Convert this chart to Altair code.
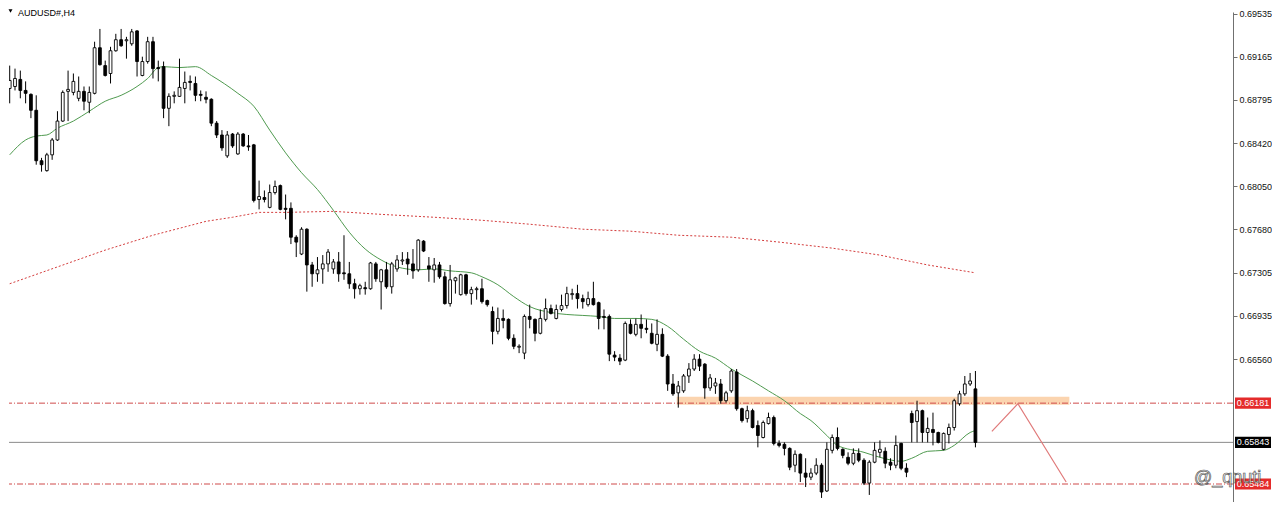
import altair as alt
import pandas as pd

symbol_title = "AUDUSD#,H4"
axis_ticks = [0.69535, 0.69165, 0.68795, 0.68420, 0.68050, 0.67680, 0.67305, 0.66935, 0.66560]

# OHLC in points (1 point = 0.00001), one entry per H4 bar, oldest first
open_pts = [68893, 68910, 68971, 68876, 68842, 68705, 68270, 68185, 68321, 68449,
            68612, 68868, 68859, 68808, 68868, 68774, 68851, 69244, 69090, 69022,
            69218, 69313, 69304, 69278, 69389, 69005, 69125, 69296, 69073, 69081,
            68722, 68825, 68825, 68893, 68954, 68936, 68842, 68817, 68800, 68594,
            68492, 68312, 68500, 68329, 68500, 68398, 68407, 67936, 67953, 67868,
            67996, 68056, 67860, 67860, 67611, 67466, 67680, 67372, 67296, 67338,
            67381, 67338, 67398, 67304, 67296, 67210, 67167, 67176, 67167, 67381,
            67227, 67330, 67184, 67338, 67406, 67423, 67381, 67330, 67577, 67364,
            67330, 67372, 67270, 67039, 67236, 67116, 67287, 67125, 67159, 67167,
            67065, 66971, 66800, 66911, 66903, 66740, 66663, 66612, 66928, 66903,
            66783, 66903, 66996, 66911, 66988, 67022, 67116, 67125, 67082, 67030,
            67082, 67047, 66928, 66928, 66595, 66569, 66552, 66860, 66774, 66860,
            66826, 66783, 66688, 66774, 66586, 66346, 66270, 66287, 66415, 66475,
            66560, 66517, 66312, 66329, 66346, 66202, 66287, 66449, 66133, 66048,
            66116, 65988, 65885, 66005, 66057, 65834, 65826, 65791, 65646, 65740,
            65578, 65543, 65578, 65646, 65424, 65774, 65885, 65783, 65714, 65663,
            65748, 65689, 65492, 65672, 65757, 65766, 65672, 65646, 65834, 65620,
            66091, 66022, 66116, 65928, 65954, 65928, 65783, 65911, 65971, 66176,
            66261, 66346, 66304]
high_pts = [69090, 69064, 69047, 68954, 68851, 68834, 68295, 68338, 68466, 68697,
            68876, 69047, 69022, 68996, 68910, 68910, 69296, 69406, 69133, 69252,
            69364, 69406, 69338, 69406, 69395, 69167, 69338, 69338, 69133, 69125,
            68851, 68868, 69150, 69039, 69005, 68996, 68876, 68868, 68808, 68612,
            68534, 68526, 68509, 68517, 68509, 68492, 68415, 68099, 68014, 68065,
            68099, 68065, 67979, 67911, 67628, 67697, 67688, 67398, 67440, 67457,
            67509, 67423, 67483, 67628, 67398, 67253, 67210, 67227, 67398, 67398,
            67338, 67398, 67398, 67457, 67483, 67483, 67509, 67594, 67586, 67440,
            67432, 67398, 67313, 67372, 67270, 67296, 67296, 67184, 67184, 67253,
            67073, 67013, 67005, 66988, 66911, 66774, 66688, 66945, 67030, 66911,
            66988, 67082, 67030, 67030, 67116, 67184, 67167, 67201, 67116, 67142,
            67227, 67056, 66988, 66945, 66629, 66603, 66885, 66903, 66911, 66945,
            66903, 66868, 66903, 66826, 66603, 66432, 66372, 66432, 66526, 66603,
            66603, 66526, 66432, 66398, 66389, 66287, 66475, 66475, 66142, 66159,
            66133, 66031, 66031, 66099, 66074, 65860, 65843, 65800, 65774, 65748,
            65706, 65620, 65706, 65663, 65843, 65911, 65971, 65791, 65757, 65791,
            65791, 65706, 65689, 65843, 65860, 65800, 65706, 65902, 65840, 65663,
            66116, 66202, 66125, 66057, 66099, 65935, 65928, 66005, 66219, 66287,
            66415, 66441, 66458]
low_pts = [68765, 68876, 68808, 68765, 68637, 68236, 68176, 68176, 68278, 68441,
           68605, 68612, 68834, 68783, 68705, 68680, 68842, 69090, 68996, 68936,
           69210, 69252, 69150, 69261, 68996, 68998, 69107, 68979, 68954, 68637,
           68568, 68765, 68820, 68765, 68876, 68783, 68783, 68765, 68568, 68466,
           68356, 68295, 68381, 68321, 68390, 68356, 67911, 67851, 67911, 67860,
           67979, 67843, 67765, 67552, 67440, 67457, 67142, 67184, 67227, 67210,
           67313, 67296, 67227, 67244, 67167, 67082, 67116, 67116, 67159, 67227,
           66988, 67167, 67125, 67313, 67372, 67287, 67253, 67313, 67483, 67227,
           67219, 67253, 67030, 67013, 67125, 67108, 67108, 67030, 67073, 67039,
           67013, 66688, 66774, 66826, 66723, 66646, 66612, 66560, 66826, 66714,
           66774, 66885, 66945, 66903, 66971, 66996, 67073, 66996, 66996, 67013,
           67022, 66817, 66817, 66543, 66543, 66509, 66543, 66774, 66757, 66740,
           66783, 66688, 66629, 66578, 66287, 66244, 66142, 66270, 66355, 66458,
           66458, 66219, 66287, 66261, 66176, 66185, 66270, 66116, 66014, 66014,
           65963, 65800, 65877, 65997, 65817, 65800, 65731, 65603, 65586, 65501,
           65458, 65518, 65561, 65364, 65415, 65748, 65774, 65706, 65646, 65646,
           65672, 65475, 65390, 65663, 65714, 65620, 65603, 65620, 65603, 65543,
           65843, 65843, 65843, 65843, 65817, 65834, 65774, 65834, 65945, 66159,
           66244, 66329, 65800]
close_pts = [68962, 68979, 68876, 68851, 68705, 68270, 68236, 68321, 68449, 68612,
             68859, 68885, 68954, 68868, 68783, 68859, 69244, 69098, 69005, 69218,
             69313, 69261, 69313, 69381, 69125, 69125, 69296, 69064, 69064, 68722,
             68825, 68834, 68902, 68945, 68945, 68834, 68834, 68800, 68594, 68492,
             68381, 68492, 68398, 68500, 68398, 68390, 67928, 67962, 67936, 67996,
             68048, 67851, 67851, 67611, 67569, 67680, 67372, 67296, 67330, 67381,
             67483, 67398, 67296, 67296, 67210, 67167, 67193, 67167, 67389, 67253,
             67330, 67184, 67381, 67415, 67415, 67381, 67321, 67586, 67492, 67338,
             67372, 67270, 67039, 67244, 67261, 67287, 67125, 67159, 67167, 67056,
             67030, 66800, 66911, 66894, 66740, 66671, 66671, 66928, 66903, 66783,
             66911, 66996, 66954, 66988, 67022, 67125, 67125, 67082, 67056, 67082,
             67030, 66911, 66920, 66603, 66578, 66543, 66868, 66783, 66860, 66826,
             66817, 66697, 66774, 66586, 66346, 66261, 66329, 66415, 66475, 66560,
             66500, 66312, 66398, 66355, 66202, 66270, 66458, 66133, 66031, 66116,
             65971, 65902, 66014, 66057, 65834, 65817, 65791, 65629, 65740, 65578,
             65543, 65578, 65646, 65415, 65783, 65885, 65791, 65731, 65663, 65748,
             65689, 65492, 65672, 65774, 65783, 65663, 65646, 65817, 65620, 65586,
             66014, 66116, 65928, 65963, 65928, 65843, 65920, 65971, 66202, 66261,
             66346, 66372, 65843]

# fast (green) moving average, read at selected bars
ma_fast_idx = [0, 3, 5, 7, 9, 12, 15, 18, 21, 24, 26, 28, 29, 32, 35, 38, 43, 46, 49, 52,
               55, 58, 61, 64, 67, 70, 73, 77, 80, 83, 87, 89, 92, 95, 98, 102, 105, 108,
               111, 114, 118, 121, 124, 127, 130, 133, 136, 140, 143, 146, 149, 151, 154,
               156, 161, 164, 168, 170, 173, 176, 178, 181, 182]
ma_fast_pts = [68321, 68449, 68483, 68492, 68551, 68612, 68697, 68783, 68834, 68910,
               68979, 69073, 69081, 69073, 69081, 69005, 68851, 68740, 68534, 68338,
               68167, 68022, 67843, 67654, 67509, 67415, 67355, 67330, 67338, 67321,
               67304, 67270, 67201, 67099, 67013, 66962, 66945, 66937, 66928, 66911,
               66911, 66903, 66843, 66732, 66629, 66569, 66475, 66372, 66287, 66202,
               66091, 66031, 65902, 65817, 65757, 65714, 65680, 65706, 65766, 65774,
               65817, 65928, 65945]
# slow (red dotted) moving average
ma_slow_idx = [0, 9, 18, 27, 37, 42, 47, 52, 61, 70, 80, 89, 98, 108, 117, 126, 136,
               145, 155, 164, 173, 182]
ma_slow_pts = [67210, 67355, 67500, 67628, 67748, 67783, 67825, 67825, 67834, 67808,
               67783, 67757, 67723, 67680, 67663, 67628, 67611, 67569, 67517, 67457,
               67372, 67304]

level_resist = 0.66181
level_current = 0.65843
level_support = 0.65484

zone_idx = [125.7, 199.7]
zone_price = [0.66168, 0.66236]

zig_idx = [185.1, 190.0, 199.1]
zig_pts = [65937, 66176, 65501]

watermark = "@_qnuti"

# ---------------------------------------------------------------------------
W = 1224
H = 490
x_dom = [0.81, 229.6]
y_dom = [0.65329, 0.69552]

P = 100000.0
candles = pd.DataFrame({
    "idx": list(range(len(open_pts))),
    "open": [v / P for v in open_pts],
    "high": [v / P for v in high_pts],
    "low": [v / P for v in low_pts],
    "close": [v / P for v in close_pts],
})
candles["dir"] = ["up" if c >= o else "down" for o, c in zip(candles["open"], candles["close"])]
up_c = candles[candles["dir"] == "up"]
dn_c = candles[candles["dir"] == "down"]

fast = pd.DataFrame({"idx": ma_fast_idx, "v": [v / P for v in ma_fast_pts]})
slow = pd.DataFrame({"idx": ma_slow_idx, "v": [v / P for v in ma_slow_pts]})
zig = pd.DataFrame({"idx": zig_idx, "v": [v / P for v in zig_pts]})
zone = pd.DataFrame({"x0": [zone_idx[0]], "x1": [zone_idx[1]],
                     "p0": [zone_price[0]], "p1": [zone_price[1]]})
red_levels = pd.DataFrame({"v": [level_resist, level_support]})
cur_level = pd.DataFrame({"v": [level_current]})

red_lab = pd.DataFrame({"v": [level_resist, level_support],
                        "txt": ["%.5f" % level_resist, "%.5f" % level_support]})
blk_lab = pd.DataFrame({"v": [level_current], "txt": ["%.5f" % level_current]})
for d in (red_lab, blk_lab):
    d["lo"] = d["v"] - 0.00048
    d["hi"] = d["v"] + 0.00048

xs = alt.Scale(domain=x_dom, nice=False, zero=False)
ys = alt.Scale(domain=y_dom, nice=False, zero=False)

y_axis = alt.Axis(orient="right", values=axis_ticks, format=".5f", title=None, grid=False,
                  domainColor="#707070", domainWidth=1, tickColor="#707070", tickSize=4,
                  labelFont="Liberation Sans", labelFontSize=9, labelColor="#111111",
                  labelPadding=2, labelOverlap=False, labelFlush=False)


def X(f):
    return alt.X(f, type="quantitative", scale=xs, axis=None)


def Y(f):
    return alt.Y(f, type="quantitative", scale=ys, axis=y_axis)


band = alt.Chart(zone).mark_rect(color="#fbd2ab", opacity=0.95, clip=True).encode(
    x=X("x0"), x2="x1", y=Y("p0"), y2="p1")

red_lines = alt.Chart(red_levels).mark_rule(color="#cf4b4b", strokeWidth=1,
                                             strokeDash=[6, 2, 1, 2]).encode(y=Y("v"))
cur_line = alt.Chart(cur_level).mark_rule(color="#8a8a8a", strokeWidth=1).encode(y=Y("v"))

slow_line = alt.Chart(slow).mark_line(color="#d43c3c", strokeWidth=1, strokeDash=[2, 2],
                                      clip=True).encode(x=X("idx"), y=Y("v"))
fast_line = alt.Chart(fast).mark_line(color="#4f9a4f", strokeWidth=1, clip=True,
                                      interpolate="monotone").encode(x=X("idx"), y=Y("v"))

wicks = alt.Chart(candles).mark_rule(color="#000000", strokeWidth=1, clip=True).encode(
    x=X("idx"), y=Y("low"), y2="high")

bodies_up = alt.Chart(up_c).mark_bar(width=2.8, fill="#ffffff", stroke="#000000",
                                     strokeWidth=0.9, clip=True).encode(
    x=X("idx"), y=Y("open"), y2="close")
bodies_dn = alt.Chart(dn_c).mark_bar(width=2.8, fill="#000000", stroke="#000000",
                                     strokeWidth=0.9, clip=True).encode(
    x=X("idx"), y=Y("open"), y2="close")

zig_line = alt.Chart(zig).mark_line(color="#e07a7a", strokeWidth=1.2, clip=True).encode(
    x=X("idx"), y=Y("v"))

red_boxes = alt.Chart(red_lab).mark_rect(fill="#e42b2b").encode(
    x=alt.value(W + 2), x2=alt.value(W + 38), y=Y("lo"), y2="hi")
blk_boxes = alt.Chart(blk_lab).mark_rect(fill="#000000").encode(
    x=alt.value(W + 2), x2=alt.value(W + 38), y=Y("lo"), y2="hi")
box_text = alt.Chart(pd.concat([red_lab, blk_lab])).mark_text(
    color="#ffffff", font="Liberation Sans", fontSize=9, align="center",
    baseline="middle").encode(x=alt.value(W + 20), y=Y("v"), text="txt:N")

title_df = pd.DataFrame({"t": [symbol_title]})
title = alt.Chart(title_df).mark_text(align="left", baseline="top", font="Liberation Sans",
                                      fontSize=9, color="#000000").encode(
    x=alt.value(9), y=alt.value(-3.5), text="t:N")
tri = alt.Chart(title_df).mark_point(shape="triangle-down", filled=True, color="#000000",
                                     size=16, opacity=1).encode(
    x=alt.value(1.5), y=alt.value(-1))

wm_df = pd.DataFrame({"t": [watermark]})
wm = alt.Chart(wm_df).mark_text(align="left", baseline="middle", font="Liberation Sans",
                                fontSize=18, fill="#ffffff", fillOpacity=0.55,
                                stroke="#5a5a5a", strokeWidth=0.7).encode(
    x=alt.value(1185), y=alt.value(466), text="t:N")

chart = alt.layer(
    band, red_lines, cur_line, slow_line, fast_line, wicks, bodies_up, bodies_dn, zig_line,
    red_boxes, blk_boxes, box_text, title, tri, wm
).properties(
    width=W, height=H, padding={"left": 0, "top": 0, "right": 0, "bottom": 0},
    background="#ffffff"
).configure_view(strokeWidth=0)

chart.save("out.html", embed_options={"renderer": "svg", "actions": False})
